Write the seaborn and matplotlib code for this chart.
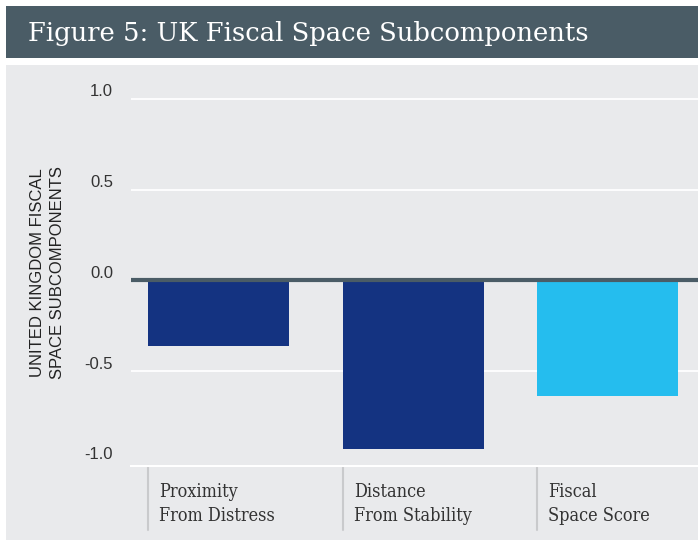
import matplotlib
matplotlib.use("Agg")
import matplotlib.pyplot as plt
import matplotlib.transforms as mtransforms
from matplotlib.patches import Rectangle
import seaborn as sns
import pandas as pd

# ---- data ----
components = ["Proximity\nFrom Distress", "Distance\nFrom Stability", "Fiscal\nSpace Score"]
values = [-0.36, -0.93, -0.64]
bar_colors = ["#143381", "#143381", "#25BDEE"]
y_ticks = [-1.0, -0.5, 0.0, 0.5, 1.0]

# ---- style ----
BAND = "#4A5C66"
PANEL = "#E9EAEC"
TICK_C = "#333333"

sns.set_style("white")
plt.rcParams["font.family"] = ["Liberation Sans", "DejaVu Sans"]

W, H = 698, 540
fig = plt.figure(figsize=(W / 100, H / 100), dpi=100, facecolor="white")

# title band + grey panel (figure coords), kept behind the axes
fig.patches.append(Rectangle((6 / W, 1 - 58 / H), 1 - 6 / W, 52 / H,
                             transform=fig.transFigure, facecolor=BAND, edgecolor="none", zorder=-10))
fig.patches.append(Rectangle((6 / W, 0), 1 - 6 / W, 1 - 65 / H,
                             transform=fig.transFigure, facecolor=PANEL, edgecolor="none", zorder=-10))
fig.text(28 / W, 1 - 33 / H, "Figure 5: UK Fiscal Space Subcomponents", color="white",
         fontsize=18.6, family="DejaVu Serif", va="center", ha="left")

ax = fig.add_axes([131 / W, (H - 466) / H, (W - 131) / W, (466 - 65) / H])
ax.set_facecolor("none")

df = pd.DataFrame({"component": components, "value": values})
sns.barplot(data=df, x="component", y="value", hue="component", palette=bar_colors,
            legend=False, width=0.725, saturation=1, linewidth=0, ax=ax, zorder=2)

ax.set_xlim(-0.45, 2.465)
ax.set_ylim(-1.023, 1.186)
ax.set_yticks(y_ticks)
ax.set_yticklabels([f"{t:.1f}" for t in y_ticks], fontsize=12, color=TICK_C)
ax.tick_params(axis="y", length=0, pad=13)
shift = mtransforms.ScaledTranslation(0, 6 / 72, fig.dpi_scale_trans)
for lab in ax.get_yticklabels():
    lab.set_transform(lab.get_transform() + shift)

ax.yaxis.grid(True, color="white", linewidth=1.3, zorder=0)
ax.set_axisbelow(True)
ax.get_ygridlines()[0].set_visible(False)
ax.axhline(0, color=BAND, linewidth=3, zorder=3)

for s in ["top", "right", "left"]:
    ax.spines[s].set_visible(False)
ax.spines["bottom"].set_color("white")
ax.spines["bottom"].set_linewidth(1.5)

ax.set_xticks([])
ax.set_xlabel("")
ax.set_ylabel("UNITED KINGDOM FISCAL\nSPACE SUBCOMPONENTS", fontsize=12, color="#222222",
              linespacing=1.4)
ax.yaxis.set_label_coords(-66 / (W - 131), (466 - 273) / (466 - 65))

# category labels + separators at bar left edges
blend = mtransforms.blended_transform_factory(ax.transData, ax.transAxes)
for bar, name in zip(ax.patches, components):
    x0 = bar.get_x()
    ax.plot([x0, x0], [0, -0.16], transform=blend, color="#C9CACC", lw=1.5,
            clip_on=False, zorder=1)
    ax.annotate(name, xy=(x0, 0), xycoords=blend, xytext=(8, -12), textcoords="offset points",
                ha="left", va="top", fontsize=13, color=TICK_C, linespacing=1.45,
                family="DejaVu Serif", fontstretch="condensed")

fig.savefig("out.png", dpi=100, facecolor="white")
